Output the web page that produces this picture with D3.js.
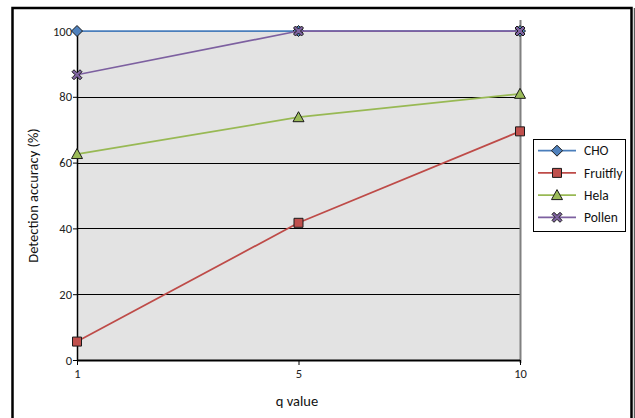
<!DOCTYPE html>
<html>
<head>
<meta charset="utf-8">
<script src="https://cdn.jsdelivr.net/npm/d3@7"></script>
<style>
  html, body { margin: 0; padding: 0; background: #fff; }
  svg { display: block; font-family: Carlito, Lato, "Open Sans", sans-serif; }
</style>
</head>
<body>
<svg id="chart" width="635" height="418"></svg>
<script>
// q values on the x axis (evenly spaced categories)
const qValues = ["1", "5", "10"];
const yTicks = [0, 20, 40, 60, 80, 100];
const seriesNames = ["CHO", "Fruitfly", "Hela", "Pollen"];
// detection accuracy (%) per q value
const choValues = [100, 100, 100];
const fruitflyValues = [5.6, 41.7, 69.5];
const helaValues = [62.6, 73.8, 80.9];
const polenValues = [86.7, 100, 100];

const seriesStyle = {
  CHO:      { line: "#4a7ebb", fill: "#4f81bd", shape: "diamond" },
  Fruitfly: { line: "#be4b48", fill: "#c0504d", shape: "square" },
  Hela:     { line: "#98b954", fill: "#9bbb59", shape: "triangle" },
  Pollen:   { line: "#7d60a0", fill: "#8064a2", shape: "cross" }
};
const series = [
  { name: "CHO", values: choValues },
  { name: "Fruitfly", values: fruitflyValues },
  { name: "Hela", values: helaValues },
  { name: "Pollen", values: polenValues }
];

const svg = d3.select("#chart");

// outer chart frame
svg.append("rect").attr("x", 12.5).attr("y", 8).attr("width", 619).attr("height", 430)
  .attr("fill", "#fff").attr("stroke", "#000").attr("stroke-width", 2.5);
svg.append("line").attr("x1", 634.3).attr("x2", 634.3).attr("y1", 8).attr("y2", 418)
  .attr("stroke", "#333").attr("stroke-width", 1);

const plot = { left: 77, right: 520, top: 31, bottom: 360 };
const x = d3.scalePoint().domain(qValues).range([plot.left, plot.right]);
const y = d3.scaleLinear().domain([0, 100]).range([plot.bottom, plot.top]);

// plot background
svg.append("rect").attr("x", plot.left).attr("y", plot.top)
  .attr("width", plot.right - plot.left).attr("height", plot.bottom - plot.top)
  .attr("fill", "#e3e3e3");

// horizontal gridlines
svg.append("g").selectAll("line").data(yTicks.filter(t => t > 0 && t < 100)).join("line")
  .attr("x1", plot.left).attr("x2", plot.right)
  .attr("y1", d => Math.round(y(d)) + 0.5).attr("y2", d => Math.round(y(d)) + 0.5)
  .attr("stroke", "#000").attr("stroke-width", 1);

// right edge of the plot area
svg.append("line").attr("x1", plot.right + 0.5).attr("x2", plot.right + 0.5)
  .attr("y1", 20).attr("y2", plot.bottom + 3)
  .attr("stroke", "#808080").attr("stroke-width", 2);

const tickFont = 12.5;

// y axis
const yAxis = svg.append("g").attr("transform", `translate(${plot.left},0)`)
  .call(d3.axisLeft(y).tickValues(yTicks).tickSize(4).tickPadding(1));
yAxis.select(".domain").attr("d", `M0.5,27V${plot.bottom}`).attr("stroke", "#000").attr("stroke-width", 1.5);
yAxis.selectAll(".tick line").attr("stroke", "#000").attr("stroke-width", 1);
yAxis.selectAll("text").attr("font-size", tickFont).attr("fill", "#222")
  .attr("font-family", "Carlito, Lato, sans-serif");

// x axis
const xAxis = svg.append("g").attr("transform", `translate(0,${plot.bottom})`)
  .call(d3.axisBottom(x).tickSize(5).tickPadding(4));
xAxis.select(".domain").attr("d", `M${plot.left},0.5H${plot.right}`).attr("stroke", "#000").attr("stroke-width", 2);
xAxis.selectAll(".tick line").attr("stroke", "#000").attr("stroke-width", 1);
xAxis.selectAll("text").attr("font-size", tickFont).attr("fill", "#222")
  .attr("font-family", "Carlito, Lato, sans-serif");

// axis titles
svg.append("text").attr("transform", `translate(38,${(plot.top + plot.bottom) / 2}) rotate(-90)`)
  .attr("text-anchor", "middle").attr("font-size", 14.5).attr("fill", "#111")
  .text("Detection accuracy (%)");
svg.append("text").attr("x", 297).attr("y", 406)
  .attr("text-anchor", "middle").attr("font-size", 14.5).attr("fill", "#111")
  .text("q value");

// marker shapes
function markerPath(shape) {
  switch (shape) {
    case "diamond": return "M0,-5.5L5.5,0L0,5.5L-5.5,0Z";
    case "square": return "M-4.5,-4.5H4.5V4.5H-4.5Z";
    case "triangle": return "M0,-5.5L5.5,4.5H-5.5Z";
    case "cross": return "M-5,-3L-3,-5L0,-2L3,-5L5,-3L2,0L5,3L3,5L0,2L-3,5L-5,3L-2,0Z";
  }
}

const line = d3.line().x((d, i) => x(qValues[i])).y(d => y(d));

series.forEach(s => {
  const st = seriesStyle[s.name];
  const g = svg.append("g");
  g.append("path").datum(s.values).attr("d", line)
    .attr("fill", "none").attr("stroke", st.line).attr("stroke-width", 1.75);
  g.selectAll("path.m").data(s.values).join("path").attr("class", "m")
    .attr("transform", (d, i) => `translate(${x(qValues[i])},${y(d)})`)
    .attr("d", markerPath(st.shape))
    .attr("fill", st.fill).attr("stroke", "#1a1a1a").attr("stroke-width", 1);
});

// legend
const legend = svg.append("g");
legend.append("rect").attr("x", 533.5).attr("y", 139.5).attr("width", 92).attr("height", 92)
  .attr("fill", "#fff").attr("stroke", "#000").attr("stroke-width", 1);
const legendY = d3.scalePoint().domain(seriesNames).range([150.7, 217.3]);
seriesNames.forEach(name => {
  const st = seriesStyle[name];
  const ly = legendY(name);
  legend.append("line").attr("x1", 538).attr("x2", 576).attr("y1", ly).attr("y2", ly)
    .attr("stroke", st.line).attr("stroke-width", 1.75);
  legend.append("path").attr("transform", `translate(557,${ly})`).attr("d", markerPath(st.shape))
    .attr("fill", st.fill).attr("stroke", "#1a1a1a").attr("stroke-width", 1);
  legend.append("text").attr("x", 584).attr("y", ly).attr("dy", "0.35em")
    .attr("font-size", 13.5).attr("fill", "#111").text(name);
});
</script>
</body>
</html>
